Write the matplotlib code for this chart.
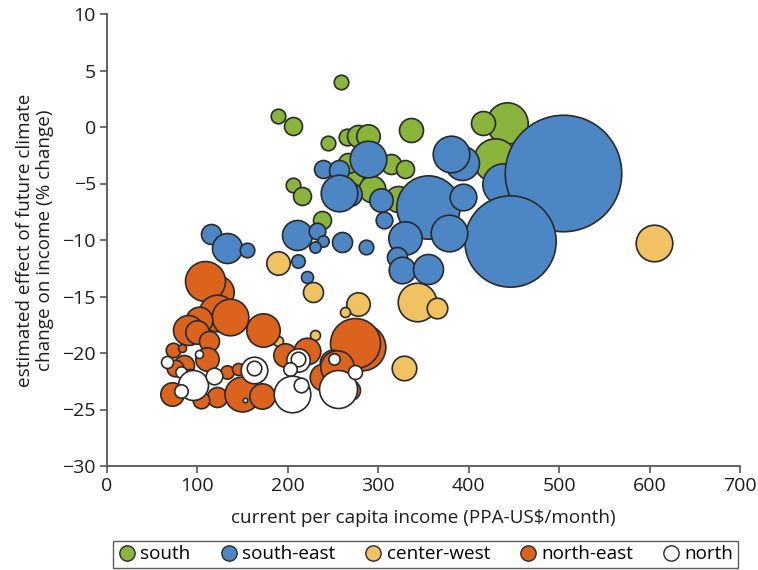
import matplotlib
matplotlib.use("Agg")
import matplotlib.pyplot as plt
from matplotlib.lines import Line2D

plt.rcParams['font.family'] = ['Open Sans', 'DejaVu Sans']

# Municipal income (PPA-US$/month), estimated climate effect (% change), population weight
south_income = [258.4, 189.5, 205.3, 244.4, 265.7, 277.2, 288.3, 336.2, 442.0, 415.4,
                429.0, 314.0, 329.5, 205.3, 216.0, 270.0, 293.4, 321.8, 237.4, 266.8]
south_effect = [3.96, 0.97, 0.12, -1.42, -0.86, -0.8, -0.8, -0.27, 0.38, 0.33,
                -2.9, -3.27, -3.7, -5.1, -6.1, -4.5, -5.5, -6.4, -8.2, -3.2]
south_pop = [53, 53, 81, 53, 69, 121, 137, 144, 428, 144,
             471, 100, 81, 53, 81, 144, 177, 169, 81, 100]

southeast_income = [438.2, 504.6, 445.6, 268.7, 288.3, 239.2, 256.9, 256.5, 303.0, 306.3,
                    355.3, 392.2, 380.4, 394.0, 329.5, 378.5, 115.0, 132.4, 154.5, 210.4,
                    232.6, 239.2, 230.0, 260.2, 286.4, 210.9, 220.8, 320.4, 325.8, 355.3]
southeast_effect = [-5.0, -4.1, -10.06, -5.9, -2.86, -3.7, -3.8, -5.8, -6.5, -8.2,
                    -7.05, -3.2, -2.4, -6.2, -9.85, -9.35, -9.47, -10.7, -10.9, -9.6,
                    -9.2, -10.06, -10.65, -10.2, -10.65, -11.9, -13.3, -11.5, -12.65, -12.6]
southeast_pop = [428, 3399, 2088, 137, 335, 81, 100, 335, 137, 69,
                 1005, 289, 335, 177, 279, 335, 100, 225, 53, 225,
                 69, 32, 32, 100, 53, 45, 36, 100, 177, 225]

centerwest_income = [604.9, 343.1, 364.6, 189.5, 228.2, 277.9, 263.2, 188.8, 230.0, 328.8]
centerwest_effect = [-10.3, -15.5, -16.0, -12.06, -14.57, -15.66, -16.4, -18.9, -18.4, -21.35]
centerwest_pop = [335, 372, 106, 137, 100, 137, 25, 25, 25, 151]

northeast_income = [121.3, 108.4, 121.3, 136.0, 102.0, 89.9, 99.9, 113.2, 172.2, 72.6,
                    82.6, 85.1, 110.3, 75.2, 92.0, 71.5, 121.3, 103.6, 132.4, 145.2,
                    149.0, 171.0, 196.8, 220.8, 281.6, 274.2, 250.3, 239.2, 254.0, 268.7]
northeast_effect = [-14.6, -13.6, -16.5, -16.8, -17.1, -17.96, -18.1, -18.9, -17.96, -19.7,
                    -19.6, -21.06, -20.5, -21.35, -22.3, -23.6, -23.9, -24.16, -21.7, -21.4,
                    -23.6, -23.8, -20.2, -19.8, -19.44, -19.14, -20.9, -22.1, -21.2, -23.3]
northeast_pop = [279, 400, 335, 335, 177, 225, 137, 100, 279, 53,
                 16, 100, 137, 69, 100, 137, 100, 69, 45, 36,
                 306, 161, 137, 177, 543, 625, 177, 177, 279, 100]

north_income = [66.7, 102.0, 81.5, 95.4, 81.5, 118.7, 152.3, 162.6, 162.6, 211.6,
                211.6, 202.4, 204.2, 214.2, 251.4, 256.0, 274.2]
north_effect = [-20.8, -20.1, -21.65, -22.8, -23.4, -22.0, -24.2, -21.5, -21.35, -20.6,
                -20.5, -21.4, -23.6, -22.8, -20.5, -23.2, -21.65]
north_pop = [36, 16, 32, 225, 45, 69, 5, 177, 53, 137,
             53, 45, 335, 53, 32, 361, 49]

region_names = ['south', 'south-east', 'center-west', 'north-east', 'north']
region_colors = ['#8ab43c', '#4d86c5', '#f1c262', '#dc631e', '#ffffff']

series = [
    (south_income, south_effect, south_pop),
    (southeast_income, southeast_effect, southeast_pop),
    (centerwest_income, centerwest_effect, centerwest_pop),
    (northeast_income, northeast_effect, northeast_pop),
    (north_income, north_effect, north_pop),
]

x_ticks = [0, 100, 200, 300, 400, 500, 600, 700]
y_ticks = [10, 5, 0, -5, -10, -15, -20, -25, -30]

EDGE = '#2a2a2a'
AXIS = '#555555'
SIZE_SCALE = 2.07  # population weight -> marker area (pt^2)

fig = plt.figure(figsize=(7.58, 5.70), dpi=100)
ax = fig.add_axes([107 / 758, 1 - 466 / 570, 633 / 758, 452 / 570])

for (xs, ys, ps), color in zip(series, region_colors):
    for x, y, p in zip(xs, ys, ps):
        ax.scatter([x], [y], s=[p * SIZE_SCALE], facecolor=color, edgecolor=EDGE,
                   linewidth=1.2, zorder=3, clip_on=False)

ax.set_xlim(0, 700)
ax.set_ylim(-30, 10)
ax.set_xticks(x_ticks)
ax.set_yticks(y_ticks)
ax.set_yticklabels(['\u2212' + str(-v) if v < 0 else str(v) for v in y_ticks])
for side in ('top', 'right'):
    ax.spines[side].set_visible(False)
for side in ('left', 'bottom'):
    ax.spines[side].set_color(AXIS)
    ax.spines[side].set_linewidth(1.3)
ax.tick_params(axis='both', direction='out', length=5, width=1.2, color=AXIS,
               labelsize=14, labelcolor='#1e1e1e', pad=3)

ax.set_xlabel('current per capita income (PPA-US$/month)', fontsize=13.6,
              color='#1e1e1e', labelpad=10)
ax.set_ylabel('estimated effect of future climate\nchange on income (% change)',
              fontsize=13.6, color='#1e1e1e', labelpad=6, linespacing=1.15)

handles = [Line2D([0], [0], marker='o', linestyle='none', markersize=11,
                  markerfacecolor=c, markeredgecolor=EDGE, markeredgewidth=1.0)
           for c in region_colors]
leg = fig.legend(handles, region_names, loc='lower left', ncol=5, mode='expand',
                 bbox_to_anchor=(113 / 758, 2 / 570, 625 / 758, 28 / 570),
                 frameon=True, fancybox=False, fontsize=13.6, handletextpad=0.2,
                 borderpad=0.25, handlelength=1.0, borderaxespad=0.0)
leg.get_frame().set_edgecolor('#333333')
leg.get_frame().set_linewidth(1.0)

fig.savefig('out.png', dpi=100, facecolor='white')
